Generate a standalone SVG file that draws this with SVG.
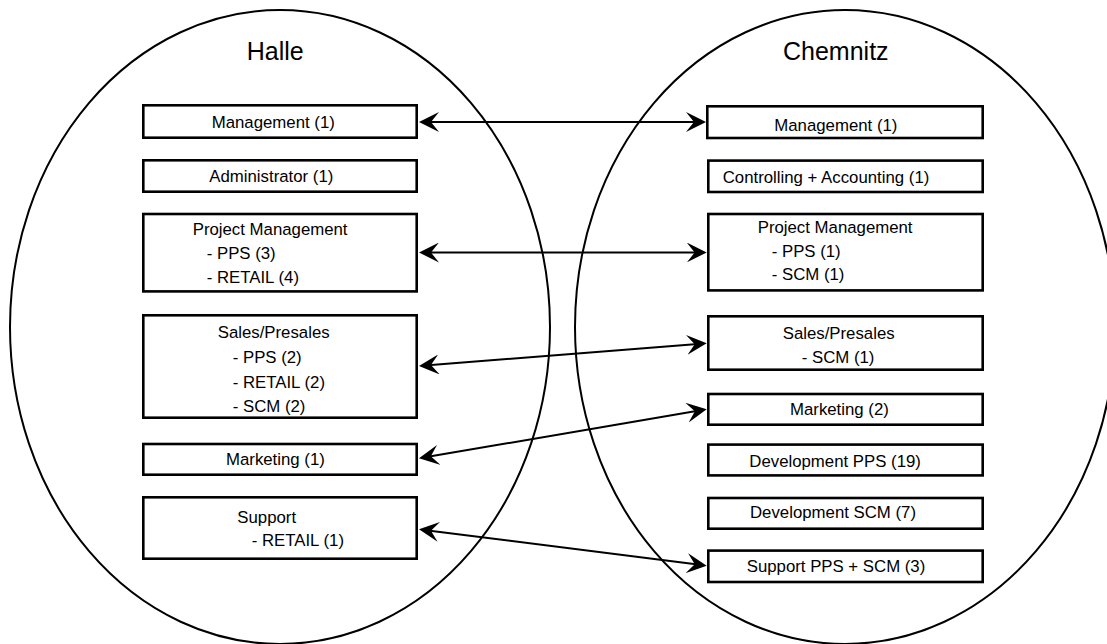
<svg xmlns="http://www.w3.org/2000/svg" width="1107" height="644" viewBox="0 0 1107 644">
<style>
.site{fill:none;stroke:#000;stroke-width:2}
.box{fill:#fff;stroke:#000;stroke-width:2.6}
.t{font-family:"Liberation Sans",Arial,Helvetica,sans-serif;font-size:16.8px;fill:#000}
.title{font-family:"Liberation Sans",Arial,Helvetica,sans-serif;font-size:25px;fill:#000}
.conn{fill:none;stroke:#000;stroke-width:2;marker-start:url(#arr);marker-end:url(#arr)}
</style>
<defs>
<marker id="arr" viewBox="0 0 20 20" refX="11" refY="10" markerWidth="20" markerHeight="20" markerUnits="userSpaceOnUse" orient="auto-start-reverse">
<path d="M20,10 L0,0 L8,10 L0,20 Z" fill="#000"/>
</marker>
</defs>
<rect width="1107" height="644" fill="#fff"/>
<g id="halle">
<ellipse class="site" cx="280" cy="327" rx="270" ry="317"/>
<text class="title" x="246.7" y="60">Halle</text>
</g>
<g id="chemnitz">
<ellipse class="site" cx="845" cy="327" rx="270" ry="317"/>
<text class="title" x="783" y="60">Chemnitz</text>
</g>
<g id="connectors">
<line class="conn" x1="428" y1="122" x2="697" y2="122"/>
<line class="conn" x1="428" y1="252.5" x2="697.7" y2="252.5"/>
<line class="conn" x1="427.97" y1="365.29" x2="697.73" y2="344.01"/>
<line class="conn" x1="427.87" y1="456.79" x2="697.83" y2="410.81"/>
<line class="conn" x1="427.93" y1="530.43" x2="697.77" y2="564.57"/>
</g>
<g id="h-management">
<rect class="box" x="143.3" y="105.3" width="273.4" height="32.4"/>
<text class="t" x="211.7" y="128.3">Management (1)</text>
</g>
<g id="h-administrator">
<rect class="box" x="143.3" y="160.3" width="273.4" height="31.4"/>
<text class="t" x="209.3" y="181.7">Administrator (1)</text>
</g>
<g id="h-project-management">
<rect class="box" x="143.3" y="214" width="273.4" height="77.4"/>
<text class="t" x="192.7" y="235">Project Management</text>
<text class="t" x="206.7" y="259.3">- PPS (3)</text>
<text class="t" x="206.7" y="283.3">- RETAIL (4)</text>
</g>
<g id="h-sales">
<rect class="box" x="143.3" y="315.3" width="273.4" height="102.4"/>
<text class="t" x="217.7" y="338.3">Sales/Presales</text>
<text class="t" x="232.7" y="363.3">- PPS (2)</text>
<text class="t" x="232.7" y="387.7">- RETAIL (2)</text>
<text class="t" x="232.7" y="412.3">- SCM (2)</text>
</g>
<g id="h-marketing">
<rect class="box" x="143.3" y="444" width="273.4" height="30.7"/>
<text class="t" x="226" y="465">Marketing (1)</text>
</g>
<g id="h-support">
<rect class="box" x="143.3" y="497.3" width="273.4" height="61.4"/>
<text class="t" x="237.3" y="522.7">Support</text>
<text class="t" x="251.7" y="546">- RETAIL (1)</text>
</g>
<g id="c-management">
<rect class="box" x="707.3" y="106.3" width="275.4" height="31.7"/>
<text class="t" x="774.3" y="130.7">Management (1)</text>
</g>
<g id="c-controlling">
<rect class="box" x="708.3" y="160.6" width="274.4" height="31.4"/>
<text class="t" x="722.7" y="183.3">Controlling + Accounting (1)</text>
</g>
<g id="c-project-management">
<rect class="box" x="708.3" y="214" width="274.4" height="76.4"/>
<text class="t" x="757.7" y="232.7">Project Management</text>
<text class="t" x="771.7" y="256.7">- PPS (1)</text>
<text class="t" x="771.7" y="280">- SCM (1)</text>
</g>
<g id="c-sales">
<rect class="box" x="708.3" y="316.3" width="274.4" height="53.4"/>
<text class="t" x="782.7" y="339.3">Sales/Presales</text>
<text class="t" x="801.7" y="363.3">- SCM (1)</text>
</g>
<g id="c-marketing">
<rect class="box" x="708.3" y="394" width="274.4" height="30.7"/>
<text class="t" x="790" y="415">Marketing (2)</text>
</g>
<g id="c-dev-pps">
<rect class="box" x="708.3" y="444.6" width="274.4" height="30.8"/>
<text class="t" x="749.3" y="466.7">Development PPS (19)</text>
</g>
<g id="c-dev-scm">
<rect class="box" x="708.3" y="498" width="274.4" height="30.7"/>
<text class="t" x="750" y="518.3">Development SCM (7)</text>
</g>
<g id="c-support">
<rect class="box" x="708.3" y="550.6" width="274.4" height="31.4"/>
<text class="t" x="746.7" y="571.7">Support PPS + SCM (3)</text>
</g>
</svg>
